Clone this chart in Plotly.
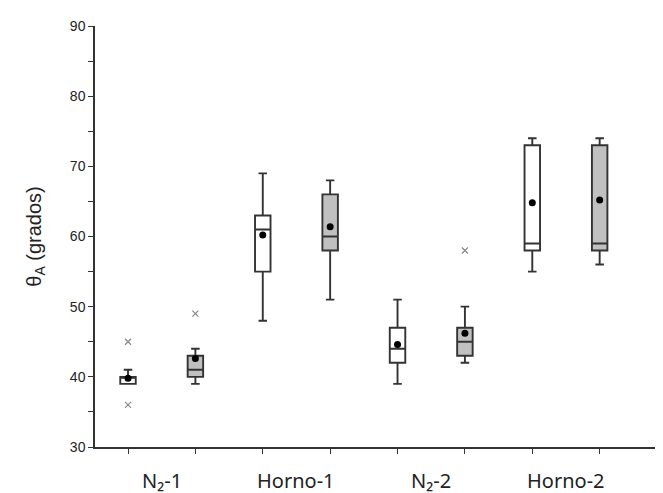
import plotly.graph_objects as go

# ---- data ----
groups = ["N₂-1", "Horno-1", "N₂-2", "Horno-2"]
positions = [1, 2, 3, 4, 5, 6, 7, 8]
fills = ["white", "#c0c0c0", "white", "#c0c0c0", "white", "#c0c0c0", "white", "#c0c0c0"]
lower = [39, 39, 48, 51, 39, 42, 55, 56]
q1 = [39, 40, 55, 58, 42, 43, 58, 58]
median = [40, 41, 61, 60, 44, 45, 59, 59]
q3 = [40, 43, 63, 66, 47, 47, 73, 73]
upper = [41, 44, 69, 68, 51, 50, 74, 74]
means = [39.8, 42.6, 60.2, 61.4, 44.6, 46.2, 64.8, 65.2]
outlier_x = [1, 1, 2, 6]
outlier_y = [45, 36, 49, 58]
label_pos = [1.5, 3.5, 5.5, 7.5]

fig = go.Figure()
for i in range(len(positions)):
    fig.add_trace(go.Box(
        x=[positions[i]], q1=[q1[i]], median=[median[i]], q3=[q3[i]],
        lowerfence=[lower[i]], upperfence=[upper[i]],
        width=0.23, whiskerwidth=0.55, fillcolor=fills[i],
        line=dict(color="#333333", width=1.9), boxpoints=False,
        showlegend=False, hoverinfo="skip"))

fig.add_trace(go.Scatter(x=positions, y=means, mode="markers",
                         marker=dict(color="black", size=7), showlegend=False))
fig.add_trace(go.Scatter(x=outlier_x, y=outlier_y, mode="markers",
                         marker=dict(symbol="x-thin", color="#888888", size=6,
                                     line=dict(color="#888888", width=1.2)),
                         showlegend=False))

for lp, g in zip(label_pos, groups):
    fig.add_annotation(x=lp, y=-0.043, xref="x", yref="paper", text=g,
                       showarrow=False, yanchor="top",
                       font=dict(family="Noto Sans", size=20, color="#222222"))

# page body has an 8px margin, so the figure is sized and offset accordingly
fig.update_layout(
    width=655, height=485,
    margin=dict(l=87, r=0, t=18, b=46),
    paper_bgcolor="white", plot_bgcolor="white",
    xaxis=dict(range=[0.51, 8.94], tickvals=positions, showticklabels=False,
               ticks="outside", ticklen=5, tickcolor="#333333", tickwidth=1.3,
               showline=True, linecolor="#333333", linewidth=1.5,
               showgrid=False, zeroline=False),
    yaxis=dict(range=[30, 90], dtick=10, tick0=30, ticks="outside", ticklen=5,
               tickcolor="#333333", tickwidth=1.3,
               minor=dict(dtick=5, ticks="outside", ticklen=5, tickcolor="#333333", tickwidth=1.3),
               showline=True, linecolor="#333333", linewidth=1.5,
               showgrid=False, zeroline=False,
               tickfont=dict(family="Liberation Sans", size=14, color="#222222"),
               title=dict(text="θ<sub>A</sub> (grados)", standoff=23,
                          font=dict(family="Liberation Sans", size=20, color="#222222"))),
)

fig.write_html("out.html")
